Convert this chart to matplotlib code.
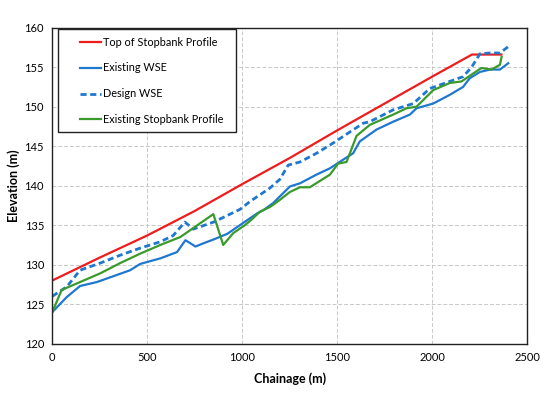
import matplotlib
matplotlib.use("Agg")
import matplotlib.pyplot as plt
from matplotlib.patches import Rectangle

plt.rcParams["font.family"] = ["Lato", "DejaVu Sans"]

# Top of stopbank profile
top_x = [0, 250, 500, 750, 1000, 1250, 1500, 1750, 2000, 2150, 2210, 2365]
top_y = [128.0, 130.9, 133.7, 136.8, 140.2, 143.5, 147.0, 150.4, 153.8, 155.8, 156.6, 156.6]

# Existing water surface elevation
ex_x = [0, 76, 146, 234, 340, 410, 463, 569, 657, 701, 754, 795, 850, 921, 1000,
        1079, 1111, 1163, 1251, 1304, 1391, 1462, 1532, 1584, 1619, 1707, 1795,
        1883, 1918, 2006, 2093, 2163, 2198, 2252, 2305, 2357, 2401]
ex_y = [124.0, 125.9, 127.3, 127.8, 128.7, 129.3, 130.1, 130.8, 131.6, 133.1, 132.3, 132.7,
        133.2, 133.9, 135.2, 136.5, 136.9, 137.8, 139.9, 140.3, 141.4, 142.2, 143.3, 144.1,
        145.6, 147.1, 148.1, 149.0, 149.8, 150.4, 151.5, 152.5, 153.6, 154.4, 154.7, 154.7,
        155.5]

# Design water surface elevation
ds_x = [0, 76, 146, 252, 357, 463, 569, 637, 698, 742, 850, 988, 1041, 1146, 1198,
        1242, 1304, 1391, 1479, 1567, 1637, 1672, 1795, 1901, 1988, 2093, 2163, 2208,
        2252, 2305, 2357, 2401]
ds_y = [126.0, 127.2, 129.3, 130.2, 131.2, 132.1, 132.9, 133.7, 135.4, 134.5, 135.4, 137.0,
        138.0, 139.7, 140.8, 142.6, 143.0, 144.1, 145.4, 146.8, 147.9, 148.1, 149.6, 150.4,
        152.3, 153.2, 153.8, 155.0, 156.7, 156.8, 156.8, 157.6]

# Existing stopbank profile
sb_x = [0, 49, 146, 252, 357, 463, 569, 674, 848, 900, 953, 1014, 1049, 1093, 1146,
        1198, 1251, 1304, 1356, 1462, 1505, 1549, 1567, 1602, 1672, 1795, 1865, 1918,
        2006, 2093, 2155, 2216, 2260, 2313, 2357, 2366]
sb_y = [124.0, 126.8, 127.8, 128.9, 130.2, 131.4, 132.5, 133.5, 136.4, 132.5, 134.0, 135.0,
        135.7, 136.7, 137.3, 138.2, 139.2, 139.8, 139.8, 141.4, 142.8, 143.0, 144.1, 146.3,
        147.7, 149.0, 149.8, 150.0, 152.1, 153.0, 153.2, 154.2, 154.9, 154.7, 155.3, 156.3]

fig = plt.figure(figsize=(5.49, 3.94), dpi=100)
ax = fig.add_axes([0.0953, 0.1277, 0.8647, 0.802])

ax.plot(top_x, top_y, color="#ee1c1c", lw=1.6, label="Top of Stopbank Profile")
ax.plot(ex_x, ex_y, color="#1f78d0", lw=1.6, label="Existing WSE")
ax.plot(ds_x, ds_y, color="#1f78d0", lw=2.0, ls=(0, (2.2, 1.3)), label="Design WSE")
ax.plot(sb_x, sb_y, color="#3a9a2c", lw=1.6, label="Existing Stopbank Profile")

ax.set_xlim(0, 2500)
ax.set_ylim(120, 160)
ax.set_xticks(range(0, 2501, 500))
ax.set_yticks(range(120, 161, 5))
ax.grid(True, color="#c8c8c8", ls=(0, (4, 2)), lw=0.7)
ax.tick_params(length=0, labelsize=8, pad=6)
for s in ax.spines.values():
    s.set_linewidth(1.0)
    s.set_color("#222222")

ax.set_xlabel("Chainage (m)", fontsize=9, fontweight="bold", labelpad=7)
ax.set_ylabel("Elevation (m)", fontsize=9, fontweight="bold", labelpad=3)

# legend box drawn separately so the padding matches the original
box = Rectangle((0.1056, 0.665), 0.3242, 0.2614, transform=fig.transFigure,
                facecolor="white", edgecolor="#222222", lw=1.0, zorder=4, clip_on=False)
ax.add_patch(box)
leg = ax.legend(loc="upper left", bbox_to_anchor=(0.1457, 0.907),
                bbox_transform=fig.transFigure, fontsize=7.8, frameon=False,
                handlelength=1.9, handletextpad=0.2, labelspacing=1.37,
                borderpad=0, borderaxespad=0)
leg.set_zorder(5)

fig.savefig("out.png", dpi=100)
